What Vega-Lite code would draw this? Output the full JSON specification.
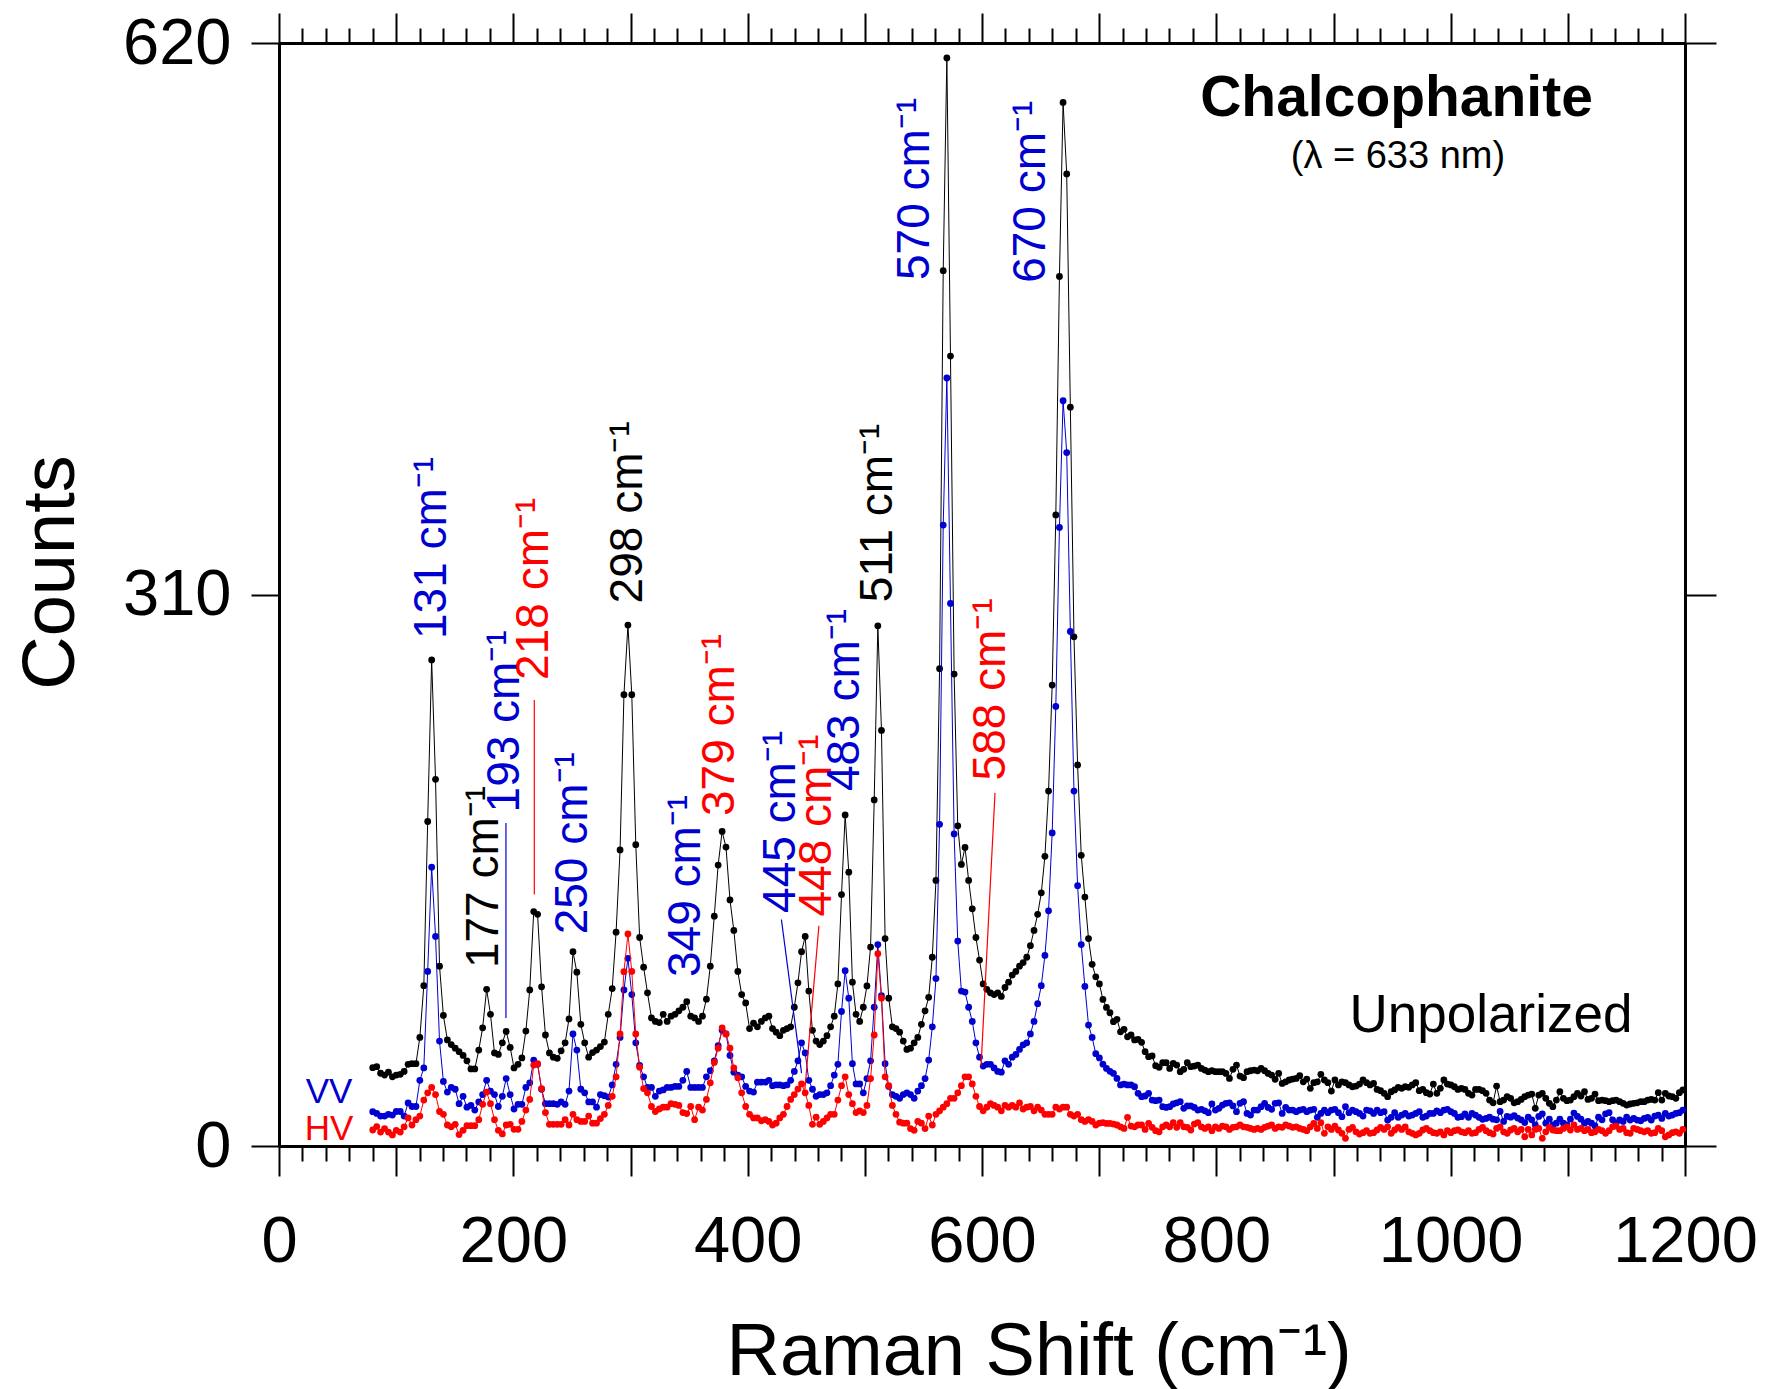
{
"$schema":"https://vega.github.io/schema/vega-lite/v6.json",
"width":1406,"height":1103,
"autosize":{"type":"none"},
"padding":{"left":279,"top":43,"right":85,"bottom":243},
"background":"white",
"config":{"view":{"stroke":null},"font":"Liberation Sans","axis":{"grid":false,"domainColor":"#000","domainWidth":3,"tickColor":"#000","tickWidth":2,"labelColor":"#000","labelFont":"Liberation Sans","titleFont":"Liberation Sans","titleColor":"#000","titleFontWeight":"normal"}},
"datasets":{
"spec":[
{"x":80,"u":44,"v":19.3,"h":9},{"x":83.4,"u":44.6,"v":18.3,"h":10.9},{"x":86.7,"u":40.9,"v":16.8,"h":7.8},{"x":90.1,"u":39.9,"v":16.8,"h":9.8},{"x":93.4,"u":41.5,"v":17.8,"h":7.8},{"x":96.8,"u":38.9,"v":17.4,"h":6.2},{"x":100.1,"u":39.9,"v":19.4,"h":8.8},{"x":103.5,"u":40.3,"v":19.4,"h":7.8},{"x":106.8,"u":41.9,"v":16.8,"h":10.8},{"x":110.2,"u":45.9,"v":24.2,"h":15.8},
{"x":113.5,"u":46.3,"v":22.2,"h":11.8},{"x":116.9,"u":46.3,"v":22.2,"h":14.8},{"x":120.2,"u":61,"v":36.9,"h":16.8},{"x":123.6,"u":90.1,"v":43.9,"h":25.8},{"x":126.9,"u":182.4,"v":98.1,"h":29.9},{"x":130.3,"u":273.2,"v":156.7,"h":32.9},{"x":133.6,"u":206.1,"v":117.8,"h":28.9},{"x":137,"u":101.1,"v":59,"h":19.4},{"x":140.3,"u":73.4,"v":36.3,"h":17.8},{"x":143.7,"u":59.6,"v":30.3,"h":11.8},
{"x":147,"u":57,"v":32.9,"h":10.8},{"x":150.4,"u":55,"v":31.9,"h":12.2},{"x":153.7,"u":53,"v":23.8,"h":6.4},{"x":157.1,"u":50.9,"v":27.9,"h":8.8},{"x":160.4,"u":47.9,"v":21.8,"h":11.4},{"x":163.8,"u":43.3,"v":22.8,"h":11.4},{"x":167.1,"u":43.3,"v":20.2,"h":11.4},{"x":170.5,"u":53.9,"v":24.8,"h":14.8},{"x":173.8,"u":66.4,"v":28.9,"h":23.4},{"x":177.2,"u":88.1,"v":36.9,"h":30.3},
{"x":180.5,"u":74,"v":30.9,"h":23.8},{"x":183.9,"u":52.3,"v":28.9,"h":14.8},{"x":187.2,"u":51.5,"v":22.2,"h":8.8},{"x":190.6,"u":58,"v":27.9,"h":6.8},{"x":193.9,"u":64.4,"v":37.9,"h":11.8},{"x":197.3,"u":55.4,"v":28.9,"h":12.2},{"x":200.6,"u":43.9,"v":20.8,"h":9.4},{"x":204,"u":45.9,"v":23.4,"h":9.4},{"x":207.3,"u":49.5,"v":23.4,"h":13.8},{"x":210.7,"u":64.6,"v":32.9,"h":20.2},
{"x":214,"u":87.7,"v":35.5,"h":26.2},{"x":217.4,"u":131.8,"v":48.3,"h":45.5},{"x":220.7,"u":130.2,"v":45.9,"h":46.3},{"x":224.1,"u":89.5,"v":31.9,"h":32.3},{"x":227.4,"u":62.4,"v":23.8,"h":18.8},{"x":230.8,"u":52.3,"v":23.8,"h":12.2},{"x":234.1,"u":49.9,"v":23.8,"h":12.2},{"x":237.5,"u":49.3,"v":23.4,"h":12.2},{"x":240.8,"u":53.5,"v":24.8,"h":12.2},{"x":244.2,"u":58,"v":23.4,"h":14.8},
{"x":247.5,"u":71.4,"v":30.9,"h":11.8},{"x":250.9,"u":109.2,"v":63,"h":17.8},{"x":254.2,"u":97.7,"v":53.9,"h":14.8},{"x":257.6,"u":68.4,"v":31.9,"h":13.8},{"x":260.9,"u":58,"v":29.9,"h":13.8},{"x":264.3,"u":49.9,"v":24.8,"h":16.8},{"x":267.6,"u":52.5,"v":24.8,"h":12.8},{"x":271,"u":53.9,"v":21.8,"h":12.8},{"x":274.3,"u":55.9,"v":28.9,"h":15.4},{"x":277.7,"u":58.4,"v":28.3,"h":17.8},
{"x":281,"u":74,"v":27.5,"h":22.8},{"x":284.4,"u":88.5,"v":34.3,"h":27.9},{"x":287.7,"u":120.2,"v":45.9,"h":38.9},{"x":291.1,"u":166.4,"v":61,"h":63},{"x":294.4,"u":253.7,"v":87.7,"h":98},{"x":297.8,"u":292.8,"v":105.5,"h":119.2},{"x":301.1,"u":253.7,"v":85.1,"h":98.1},{"x":304.5,"u":169.4,"v":58,"h":63},{"x":307.8,"u":117.2,"v":45.3,"h":44.3},{"x":311.2,"u":100.5,"v":38.9,"h":32.3},
{"x":314.5,"u":86.1,"v":32.9,"h":29.9},{"x":317.9,"u":72,"v":32.9,"h":22.2},{"x":321.2,"u":70,"v":27.9,"h":19.4},{"x":324.6,"u":69.4,"v":30.9,"h":20.8},{"x":327.9,"u":74,"v":31.5,"h":21.8},{"x":331.3,"u":70,"v":32.9,"h":21.8},{"x":334.6,"u":73,"v":32.9,"h":23.8},{"x":338,"u":74,"v":33.5,"h":23.4},{"x":341.3,"u":76,"v":33.5,"h":22.8},{"x":344.7,"u":78,"v":36.9,"h":18.8},
{"x":348,"u":81.1,"v":41.9,"h":18.2},{"x":351.4,"u":73,"v":32.9,"h":22.2},{"x":354.7,"u":72,"v":32.9,"h":14.8},{"x":358.1,"u":70,"v":32.9,"h":21.8},{"x":361.4,"u":73,"v":32.9,"h":20.2},{"x":364.8,"u":82.5,"v":38.9,"h":26.2},{"x":368.1,"u":101.1,"v":42.3,"h":35.5},{"x":371.5,"u":129.2,"v":47.9,"h":47},{"x":374.8,"u":157.9,"v":56.4,"h":55},{"x":378.2,"u":176.8,"v":65,"h":66.4},
{"x":381.5,"u":168,"v":63,"h":63},{"x":384.9,"u":138.3,"v":50.9,"h":55},{"x":388.2,"u":121.2,"v":41.5,"h":43.9},{"x":391.6,"u":98.1,"v":39.9,"h":38.3},{"x":394.9,"u":85.1,"v":38.9,"h":29.9},{"x":398.3,"u":80.4,"v":33.5,"h":22.2},{"x":401.6,"u":66,"v":30.9,"h":17.8},{"x":405,"u":69,"v":30.3,"h":15.8},{"x":408.3,"u":67,"v":35.9,"h":15.8},{"x":411.7,"u":70,"v":35.9,"h":14.2},
{"x":415,"u":72,"v":35.9,"h":14.8},{"x":418.1,"u":73,"v":36.9,"h":13.8},{"x":421.2,"u":66,"v":33.9,"h":11.8},{"x":424.3,"u":64,"v":34.3,"h":12.8},{"x":427.4,"u":62,"v":34.3,"h":15.8},{"x":430.5,"u":65,"v":33.9,"h":17.8},{"x":433.6,"u":66,"v":34.3,"h":22.2},{"x":436.7,"u":67,"v":36.9,"h":26.2},{"x":439.8,"u":78,"v":41.9,"h":28.9},{"x":442.9,"u":91.7,"v":47.9,"h":32},
{"x":446,"u":109.2,"v":58,"h":34.9},{"x":449.1,"u":117.8,"v":52.3,"h":29.9},{"x":452.2,"u":87.1,"v":36.9,"h":22.8},{"x":455.3,"u":65,"v":31.9,"h":12.2},{"x":458.4,"u":59,"v":27.9,"h":16.2},{"x":461.5,"u":57,"v":28.9,"h":12.2},{"x":464.6,"u":59,"v":28.9,"h":13.8},{"x":467.7,"u":62,"v":29.9,"h":15.8},{"x":470.8,"u":67,"v":33.9,"h":17.8},{"x":473.9,"u":73,"v":39.9,"h":17.8},
{"x":477,"u":91.1,"v":45.9,"h":25.8},{"x":480.1,"u":141.3,"v":75.6,"h":33.9},{"x":483.2,"u":186.1,"v":98.5,"h":38.9},{"x":486.3,"u":153.9,"v":83.1,"h":28.9},{"x":489.4,"u":92.1,"v":46.3,"h":23.8},{"x":492.5,"u":74,"v":34.9,"h":18.8},{"x":495.6,"u":70,"v":34.9,"h":19.8},{"x":498.7,"u":78,"v":29.9,"h":18.8},{"x":501.8,"u":90,"v":37.9,"h":22.8},{"x":504.9,"u":111.8,"v":47.9,"h":37.9},
{"x":508,"u":194.5,"v":78,"h":62.4},{"x":511.1,"u":292.4,"v":113.2,"h":108.1},{"x":514.2,"u":233.6,"v":84.5,"h":83.1},{"x":517.3,"u":116.6,"v":46.3,"h":38.9},{"x":520.4,"u":83.1,"v":33.5,"h":33.9},{"x":523.5,"u":67,"v":28.9,"h":22.8},{"x":526.6,"u":66,"v":27.9,"h":17.8},{"x":529.7,"u":64,"v":26.8,"h":13.4},{"x":532.8,"u":59,"v":28.9,"h":12.8},{"x":535.9,"u":54.3,"v":29.9,"h":12.8},
{"x":539,"u":55,"v":28.9,"h":9.8},{"x":542.1,"u":58,"v":26.8,"h":8.8},{"x":545.2,"u":61,"v":30.9,"h":13.8},{"x":548.3,"u":68.4,"v":33.9,"h":12.8},{"x":551.4,"u":76,"v":37.9,"h":9.8},{"x":554.5,"u":83.6,"v":48.3,"h":16.8},{"x":557.6,"u":106.1,"v":67,"h":11.8},{"x":560.7,"u":149.3,"v":94.1,"h":17.8},{"x":563.8,"u":268.3,"v":180.8,"h":19.8},{"x":566.9,"u":492,"v":349,"h":21.8},
{"x":570,"u":611.6,"v":431.7,"h":23.8},{"x":573.1,"u":444,"v":305,"h":26.8},{"x":576.2,"u":265.3,"v":175.4,"h":26.8},{"x":579.3,"u":180,"v":115.2,"h":29.9},{"x":582.4,"u":158.3,"v":87.1,"h":33.9},{"x":585.5,"u":167.8,"v":86.5,"h":38.9},{"x":588.6,"u":149.3,"v":78,"h":38.9},{"x":591.7,"u":133.3,"v":70,"h":34.9},{"x":594.8,"u":117.2,"v":58,"h":27.9},{"x":597.9,"u":104.5,"v":49.9,"h":22.2},
{"x":601,"u":91.1,"v":44.9,"h":19.8},{"x":604.1,"u":88.1,"v":45.9,"h":21.8},{"x":607.2,"u":86.1,"v":45.9,"h":23.8},{"x":610.3,"u":85.1,"v":43.9,"h":22.8},{"x":613.4,"u":86.1,"v":41.9,"h":21.8},{"x":616.5,"u":84.1,"v":41.5,"h":19.8},{"x":619.6,"u":89.1,"v":47.9,"h":22.8},{"x":622.7,"u":92.1,"v":45.9,"h":21.8},{"x":625.8,"u":96.1,"v":49.9,"h":22.8},{"x":628.9,"u":98.1,"v":51.5,"h":21.8},
{"x":632,"u":101.1,"v":54.3,"h":24.2},{"x":635.1,"u":103.1,"v":56.9,"h":20.8},{"x":638.2,"u":106.1,"v":58,"h":21.8},{"x":641.3,"u":112.6,"v":63,"h":22.2},{"x":644.4,"u":121.2,"v":70,"h":19.8},{"x":647.5,"u":130.2,"v":80,"h":21.8},{"x":650.6,"u":142.3,"v":90.1,"h":20.2},{"x":653.7,"u":162.8,"v":107.1,"h":17.8},{"x":656.8,"u":199.5,"v":132.2,"h":17.8},{"x":659.9,"u":259.1,"v":176,"h":17.8},
{"x":663,"u":354.7,"v":247.1,"h":21.8},{"x":666.1,"u":488.8,"v":347.7,"h":20.8},{"x":669.2,"u":586.6,"v":418.9,"h":21.8},{"x":672.3,"u":546.4,"v":389.8,"h":21.8},{"x":675.4,"u":415.3,"v":289.2,"h":17.8},{"x":678.5,"u":286.2,"v":199.5,"h":16.8},{"x":681.6,"u":214.2,"v":146.3,"h":17.8},{"x":684.7,"u":163.4,"v":113.2,"h":14.8},{"x":687.8,"u":139.9,"v":89.7,"h":13.8},{"x":690.9,"u":116.6,"v":68,"h":14.8},
{"x":694,"u":102.1,"v":61,"h":13.8},{"x":697.1,"u":95.1,"v":51.9,"h":11.8},{"x":700.2,"u":91.1,"v":49.5,"h":12.8},
{"x":703.2,"u":82.4,"v":46,"h":13.1},{"x":706.2,"u":77.9,"v":43.6,"h":12.7},{"x":709.2,"u":74.9,"v":42,"h":12.7},{"x":712.2,"u":69.9,"v":40.8,"h":12.3},{"x":715.2,"u":71.2,"v":38,"h":11.8},{"x":718.2,"u":64.2,"v":34.3,"h":10.8},{"x":721.2,"u":65.6,"v":34.8,"h":9.9},{"x":724.2,"u":61.4,"v":34.3,"h":16.1},{"x":727.2,"u":62.4,"v":34.3,"h":11.2},{"x":730.2,"u":59.6,"v":33.3,"h":10.8},
{"x":733.2,"u":59.9,"v":29.6,"h":11.8},{"x":736.2,"u":58.3,"v":27.7,"h":11.8},{"x":739.2,"u":53,"v":28.1,"h":9.3},{"x":742.2,"u":50.2,"v":29.6,"h":12.7},{"x":745.2,"u":50.6,"v":25.8,"h":10.5},{"x":748.2,"u":45.1,"v":25.5,"h":8.6},{"x":751.2,"u":44.2,"v":25.8,"h":8},{"x":754.2,"u":46.8,"v":22.1,"h":10.8},{"x":757.2,"u":46.8,"v":21.7,"h":11.8},{"x":760.2,"u":43.6,"v":22.1,"h":10.8},
{"x":763.2,"u":46.4,"v":23.6,"h":13.1},{"x":766.2,"u":45.5,"v":24.3,"h":10.5},{"x":769.2,"u":41.8,"v":24.9,"h":13.1},{"x":772.2,"u":43.1,"v":21.2,"h":10.8},{"x":775.2,"u":46.8,"v":22.5,"h":10.5},{"x":778.2,"u":44.6,"v":22.5,"h":9},{"x":781.2,"u":44.9,"v":21.7,"h":12.3},{"x":784.2,"u":45.5,"v":20.2,"h":13.1},{"x":787.2,"u":43.6,"v":20.6,"h":10.8},{"x":790.2,"u":42.7,"v":19.8,"h":9.9},
{"x":793.2,"u":41.8,"v":18.7,"h":10.8},{"x":796.2,"u":42.3,"v":23.6,"h":8.6},{"x":799.2,"u":41.8,"v":20.2,"h":10.8},{"x":802.2,"u":41.8,"v":21.2,"h":9.9},{"x":805.2,"u":41.8,"v":23,"h":11.2},{"x":808.2,"u":40.8,"v":24,"h":10.8},{"x":811.2,"u":38,"v":24.3,"h":9.3},{"x":814.2,"u":43.1,"v":22.5,"h":10.5},{"x":817.2,"u":45.5,"v":19.3,"h":10.8},{"x":820.2,"u":39.3,"v":24,"h":11.8},
{"x":823.2,"u":38.4,"v":24.9,"h":10.8},{"x":826.2,"u":41.8,"v":18.3,"h":10.5},{"x":829.2,"u":42.3,"v":17.4,"h":9.9},{"x":832.2,"u":42.7,"v":20.2,"h":9.3},{"x":835.2,"u":42.3,"v":20.2,"h":9.9},{"x":838.2,"u":43.6,"v":22.1,"h":9.3},{"x":841.2,"u":42.3,"v":24,"h":10.5},{"x":844.2,"u":40.8,"v":21.7,"h":11.2},{"x":847.2,"u":39.9,"v":20.6,"h":11.8},{"x":850.2,"u":37.5,"v":24,"h":9.9},
{"x":853.2,"u":40.8,"v":24.3,"h":10.8},{"x":856.2,"u":35.2,"v":18.3,"h":10.5},{"x":859.2,"u":36.1,"v":21.7,"h":11.8},{"x":862.2,"u":37.1,"v":20.2,"h":11.2},{"x":865.2,"u":37.6,"v":20.2,"h":10.5},{"x":868.2,"u":38,"v":19.3,"h":10.8},{"x":871.2,"u":39.5,"v":20.2,"h":9.9},{"x":874.2,"u":36.1,"v":20.6,"h":9.3},{"x":877.2,"u":37.6,"v":19.3,"h":8.6},{"x":880.2,"u":32.4,"v":20.2,"h":10.8},
{"x":883.2,"u":35.6,"v":20.6,"h":12.7},{"x":886.2,"u":36.1,"v":16.1,"h":9.9},{"x":889.2,"u":40.3,"v":18.3,"h":13.1},{"x":892.2,"u":37.1,"v":20.2,"h":7.1},{"x":895.2,"u":35.6,"v":18.7,"h":10.8},{"x":898.2,"u":30.9,"v":20.2,"h":9.3},{"x":901.2,"u":37.1,"v":20.6,"h":11.2},{"x":904.2,"u":34.3,"v":18.7,"h":9},{"x":907.2,"u":36.1,"v":16.5,"h":7.1},{"x":910.2,"u":35.6,"v":22.1,"h":4.3},
{"x":913.2,"u":34.3,"v":18.7,"h":9.3},{"x":916.2,"u":33.3,"v":20.2,"h":10.5},{"x":919.2,"u":33.7,"v":19.3,"h":8},{"x":922.2,"u":34.8,"v":18.3,"h":6.7},{"x":925.2,"u":37.1,"v":16.8,"h":7.5},{"x":928.2,"u":35.6,"v":20.2,"h":8.6},{"x":931.2,"u":34.3,"v":19.8,"h":7.1},{"x":934.2,"u":35.2,"v":18.3,"h":7.5},{"x":937.2,"u":31.8,"v":20.2,"h":9},{"x":940.2,"u":31.1,"v":18.7,"h":10.5},
{"x":943.2,"u":29.6,"v":19.3,"h":9.3},{"x":946.2,"u":27.7,"v":14.6,"h":10.8},{"x":949.2,"u":30.5,"v":16.1,"h":7.1},{"x":952.2,"u":31.5,"v":18.7,"h":9},{"x":955.2,"u":33,"v":16.1,"h":10.5},{"x":958.2,"u":32.4,"v":17.4,"h":9.3},{"x":961.2,"u":33.3,"v":18.3,"h":10.8},{"x":964.2,"u":33,"v":16.8,"h":8},{"x":967.2,"u":34.3,"v":17.4,"h":7.1},{"x":970.2,"u":35.6,"v":18.3,"h":6.2},
{"x":973.2,"u":31.1,"v":19.3,"h":7.1},{"x":976.2,"u":31.8,"v":16.1,"h":9},{"x":979.2,"u":30,"v":16.8,"h":9.9},{"x":982.2,"u":29.2,"v":18.3,"h":8.6},{"x":985.2,"u":34.8,"v":18.3,"h":7.5},{"x":988.2,"u":29.6,"v":19.8,"h":7.1},{"x":991.2,"u":32.4,"v":18.7,"h":8},{"x":994.2,"u":37.1,"v":20.2,"h":6.2},{"x":997.2,"u":34.8,"v":20.6,"h":8.6},{"x":1000.2,"u":34.3,"v":19.3,"h":7.5},
{"x":1003.2,"u":33.3,"v":18.3,"h":8.6},{"x":1006.2,"u":31.8,"v":16.1,"h":9},{"x":1009.2,"u":32.4,"v":16.5,"h":8},{"x":1012.2,"u":31.8,"v":18,"h":7.5},{"x":1015.2,"u":29.6,"v":16.1,"h":8.6},{"x":1018.2,"u":28.6,"v":18.3,"h":7.1},{"x":1021.2,"u":31.8,"v":17.4,"h":7.5},{"x":1024.2,"u":31.8,"v":16.1,"h":9.3},{"x":1027.2,"u":31.1,"v":15,"h":10.5},{"x":1030.2,"u":29.6,"v":15.5,"h":8.6},
{"x":1033.2,"u":25.8,"v":16.2,"h":7.5},{"x":1036.2,"u":24.3,"v":15.1,"h":6.7},{"x":1039.2,"u":33.7,"v":14.7,"h":9.9},{"x":1042.2,"u":24.9,"v":19.4,"h":10.8},{"x":1045.2,"u":25.8,"v":13.8,"h":8},{"x":1048.2,"u":27.7,"v":16.6,"h":7.1},{"x":1051.2,"u":26.8,"v":16.2,"h":9},{"x":1054.2,"u":24.3,"v":17,"h":9.9},{"x":1057.2,"u":24.9,"v":15.7,"h":8},{"x":1060.2,"u":26.2,"v":14.7,"h":9.3},
{"x":1063.2,"u":27.7,"v":13.2,"h":5.2},{"x":1066.2,"u":28.6,"v":16.2,"h":9.3},{"x":1069.2,"u":29.2,"v":14.7,"h":6.2},{"x":1072.2,"u":21.2,"v":11.9,"h":9.3},{"x":1075.2,"u":28.6,"v":16.6,"h":9.9},{"x":1078.2,"u":29.6,"v":18.1,"h":4.3},{"x":1081.2,"u":26.8,"v":12.8,"h":8},{"x":1084.2,"u":24,"v":15.1,"h":10.5},{"x":1087.2,"u":22.1,"v":11.9,"h":9},{"x":1090.2,"u":25.8,"v":12.8,"h":8.6},
{"x":1093.2,"u":30.5,"v":15.1,"h":8.6},{"x":1096.2,"u":26.8,"v":12.8,"h":9.9},{"x":1099.2,"u":25.5,"v":11.9,"h":10.8},{"x":1102.2,"u":25.8,"v":15.1,"h":9},{"x":1105.2,"u":27.7,"v":18.5,"h":11.8},{"x":1108.2,"u":29.6,"v":16.6,"h":9.3},{"x":1111.2,"u":28.1,"v":15.1,"h":9.9},{"x":1114.2,"u":30.5,"v":12.8,"h":8.6},{"x":1117.2,"u":26.2,"v":13.8,"h":9.3},{"x":1120.2,"u":26.8,"v":12.8,"h":7.5},
{"x":1123.2,"u":29.2,"v":11.3,"h":8},{"x":1126.2,"u":25.5,"v":16.2,"h":9.3},{"x":1129.2,"u":25.8,"v":14.7,"h":8.6},{"x":1132.2,"u":25.5,"v":18.1,"h":7.1},{"x":1135.2,"u":24.9,"v":18.8,"h":8.6},{"x":1138.2,"u":25.5,"v":14.7,"h":10.8},{"x":1141.2,"u":25.8,"v":12.8,"h":11.2},{"x":1144.2,"u":24.9,"v":14.7,"h":9.3},{"x":1147.2,"u":24,"v":13.8,"h":9.9},{"x":1150.2,"u":23,"v":16.2,"h":7.5},
{"x":1153.2,"u":23.6,"v":14.6,"h":7.1},{"x":1156.2,"u":24,"v":15.5,"h":9.9},{"x":1159.2,"u":24.3,"v":14.6,"h":9.3},{"x":1162.2,"u":24.9,"v":14.2,"h":8.6},{"x":1165.2,"u":24.9,"v":15.5,"h":8},{"x":1168.2,"u":25.8,"v":16.1,"h":8.6},{"x":1171.2,"u":26.2,"v":14.6,"h":7.1},{"x":1174.2,"u":25.8,"v":16.8,"h":7.5},{"x":1177.2,"u":30,"v":17.4,"h":9.9},{"x":1180.2,"u":25.8,"v":15.5,"h":8.6},
{"x":1183.2,"u":29.6,"v":18.3,"h":5.2},{"x":1186.2,"u":28.1,"v":16.8,"h":6.2},{"x":1189.2,"u":27.7,"v":17.4,"h":7.5},{"x":1192.2,"u":26.8,"v":18.3,"h":8},{"x":1195.2,"u":30,"v":18.7,"h":7.1},{"x":1198.2,"u":31.5,"v":20.2,"h":9.3}
],
"labels":[
{"x":130.9,"y":285,"t":"131 cm\u207b\u00b9","s":"VV"},
{"x":175,"y":100,"t":"177 cm\u207b\u00b9","s":"Unpolarized"},
{"x":192.9,"y":187.5,"t":"193 cm\u207b\u00b9","s":"VV"},
{"x":217.6,"y":262,"t":"218 cm\u207b\u00b9","s":"HV"},
{"x":251.2,"y":119,"t":"250 cm\u207b\u00b9","s":"VV"},
{"x":298.1,"y":305,"t":"298 cm\u207b\u00b9","s":"Unpolarized"},
{"x":347.1,"y":95,"t":"349 cm\u207b\u00b9","s":"VV"},
{"x":376.4,"y":185.5,"t":"379 cm\u207b\u00b9","s":"HV"},
{"x":428.2,"y":131,"t":"445 cm\u207b\u00b9","s":"VV"},
{"x":459.4,"y":129,"t":"448 cm\u207b\u00b9","s":"HV"},
{"x":483.1,"y":199.5,"t":"483 cm\u207b\u00b9","s":"VV"},
{"x":511.5,"y":305.6,"t":"511 cm\u207b\u00b9","s":"Unpolarized"},
{"x":542.8,"y":486.8,"t":"570 cm\u207b\u00b9","s":"VV"},
{"x":607.4,"y":205.5,"t":"588 cm\u207b\u00b9","s":"HV"},
{"x":641.5,"y":485.2,"t":"670 cm\u207b\u00b9","s":"VV"}
],
"leaders":[
{"x":193.7,"y":72,"x2":193.7,"y2":181.6,"s":"VV"},
{"x":217.9,"y":141.3,"x2":217.9,"y2":250.7,"s":"HV"},
{"x":428.8,"y":127.3,"x2":446,"y2":41,"s":"VV"},
{"x":460.8,"y":123.8,"x2":448.6,"y2":29.9,"s":"HV"},
{"x":611.1,"y":198.5,"x2":599.2,"y2":45,"s":"HV"}
]
},
"resolve":{"axis":{"x":"independent","y":"independent"}},
"layer":[
{"data":{"name":"spec"},"mark":{"type":"line","color":"#000000","strokeWidth":1},
 "encoding":{
  "x":{"field":"x","type":"quantitative","scale":{"domain":[0,1200],"nice":false,"zero":false},
   "axis":{"orient":"bottom","values":[0,20,40,60,80,100,120,140,160,180,200,220,240,260,280,300,320,340,360,380,400,420,440,460,480,500,520,540,560,580,600,620,640,660,680,700,720,740,760,780,800,820,840,860,880,900,920,940,960,980,1000,1020,1040,1060,1080,1100,1120,1140,1160,1180,1200],
    "tickSize":{"condition":{"test":"datum.value % 100 === 0","value":30},"value":15},
    "labelExpr":"datum.value % 200 === 0 ? datum.label : ''","format":"d","labelFontSize":65,"labelPadding":34,"labelOverlap":false,"labelFlush":false,"labelBound":false,
    "title":"Raman Shift (cm\u207b\u00b9)","titleFontSize":74,"titleX":759.6,"titleY":228,"titleBaseline":"alphabetic","titleAlign":"center"}},
  "y":{"field":"u","type":"quantitative","scale":{"domain":[0,620],"nice":false,"zero":false},
   "axis":{"orient":"left","values":[0,310,620],"tickSize":28,"format":"d","labelFontSize":65,"labelPadding":20,
    "title":"Counts","titleFontSize":74,"titleX":-206,"titleY":529,"titleBaseline":"alphabetic","titleAlign":"center","titleAngle":270}}}},
{"data":{"name":"spec"},"mark":{"type":"point","filled":true,"size":46,"color":"#000000","opacity":1},
 "encoding":{"x":{"field":"x","type":"quantitative","axis":null},"y":{"field":"u","type":"quantitative","axis":null}}},
{"data":{"name":"spec"},"mark":{"type":"line","color":"#0000D0","strokeWidth":1},
 "encoding":{
  "x":{"field":"x","type":"quantitative",
   "axis":{"orient":"top","values":[0,20,40,60,80,100,120,140,160,180,200,220,240,260,280,300,320,340,360,380,400,420,440,460,480,500,520,540,560,580,600,620,640,660,680,700,720,740,760,780,800,820,840,860,880,900,920,940,960,980,1000,1020,1040,1060,1080,1100,1120,1140,1160,1180,1200],
    "tickSize":{"condition":{"test":"datum.value % 100 === 0","value":30},"value":15},"labels":false,"title":null}},
  "y":{"field":"v","type":"quantitative",
   "axis":{"orient":"right","values":[0,310,620],"tickSize":31,"labels":false,"title":null}}}},
{"data":{"name":"spec"},"mark":{"type":"point","filled":true,"size":46,"color":"#0000D0","opacity":1},
 "encoding":{"x":{"field":"x","type":"quantitative","axis":null},"y":{"field":"v","type":"quantitative","axis":null}}},
{"data":{"name":"spec"},"mark":{"type":"line","color":"#FF0000","strokeWidth":1},
 "encoding":{"x":{"field":"x","type":"quantitative","axis":null},"y":{"field":"h","type":"quantitative","axis":null}}},
{"data":{"name":"spec"},"mark":{"type":"point","filled":true,"size":46,"color":"#FF0000","opacity":1},
 "encoding":{"x":{"field":"x","type":"quantitative","axis":null},"y":{"field":"h","type":"quantitative","axis":null}}},
{"data":{"name":"leaders"},"mark":{"type":"rule","strokeWidth":1.2},
 "encoding":{"x":{"field":"x","type":"quantitative","axis":null},"y":{"field":"y","type":"quantitative","axis":null},"x2":{"field":"x2"},"y2":{"field":"y2"},
  "color":{"field":"s","type":"nominal","scale":{"domain":["Unpolarized","VV","HV"],"range":["#000000","#0000D0","#FF0000"]},"legend":null}}},
{"data":{"name":"labels"},"mark":{"type":"text","angle":270,"align":"left","baseline":"middle","fontSize":46,"font":"Liberation Sans"},
 "encoding":{"x":{"field":"x","type":"quantitative","axis":null},"y":{"field":"y","type":"quantitative","axis":null},"text":{"field":"t"},
  "color":{"field":"s","type":"nominal","scale":{"domain":["Unpolarized","VV","HV"],"range":["#000000","#0000D0","#FF0000"]},"legend":null}}},
{"data":{"values":[{"x":953.8,"y":579,"t":"Chalcophanite"}]},"mark":{"type":"text","font":"Liberation Sans","fontWeight":"bold","fontSize":57,"align":"center","baseline":"alphabetic","color":"#000000"},
 "encoding":{"x":{"field":"x","type":"quantitative","axis":null},"y":{"field":"y","type":"quantitative","axis":null},"text":{"field":"t"}}},
{"data":{"values":[{"x":955,"y":549.6,"t":"(\u03bb = 633 nm)"}]},"mark":{"type":"text","font":"Liberation Sans","fontSize":38,"align":"center","baseline":"alphabetic","color":"#000000"},
 "encoding":{"x":{"field":"x","type":"quantitative","axis":null},"y":{"field":"y","type":"quantitative","axis":null},"text":{"field":"t"}}},
{"data":{"values":[{"x":1034.4,"y":64.3,"t":"Unpolarized"}]},"mark":{"type":"text","font":"Liberation Sans","fontSize":53,"align":"center","baseline":"alphabetic","color":"#000000"},
 "encoding":{"x":{"field":"x","type":"quantitative","axis":null},"y":{"field":"y","type":"quantitative","axis":null},"text":{"field":"t"}}},
{"data":{"values":[{"x":42.7,"y":24,"t":"VV","s":"VV"},{"x":42.7,"y":3.4,"t":"HV","s":"HV"}]},"mark":{"type":"text","font":"Liberation Sans","fontSize":35,"align":"center","baseline":"alphabetic"},
 "encoding":{"x":{"field":"x","type":"quantitative","axis":null},"y":{"field":"y","type":"quantitative","axis":null},"text":{"field":"t"},
  "color":{"field":"s","type":"nominal","scale":{"domain":["Unpolarized","VV","HV"],"range":["#000000","#0000D0","#FF0000"]},"legend":null}}}
]
}
